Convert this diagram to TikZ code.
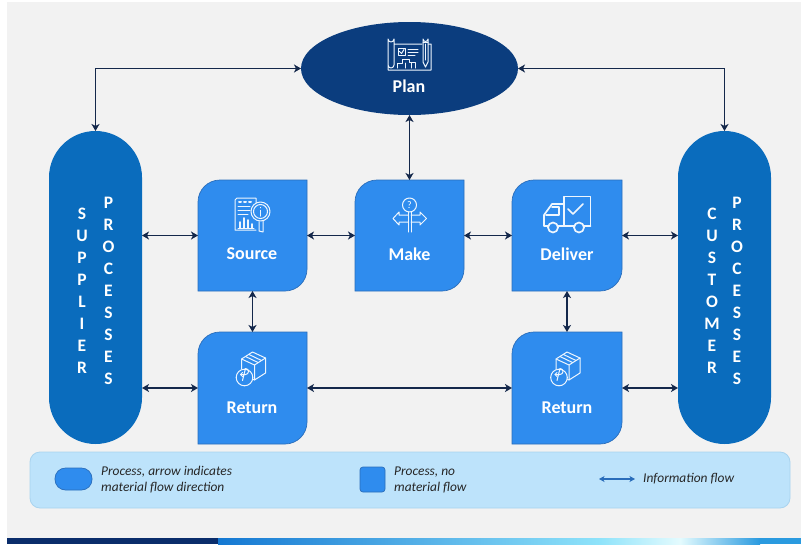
\documentclass[tikz,border=0pt]{standalone}
\usepackage{fontspec}
\setmainfont{Carlito}
\usetikzlibrary{arrows.meta,shapes.geometric}
\definecolor{bgc}{HTML}{F2F2F2}
\definecolor{boxc}{HTML}{2F8CEE}
\definecolor{boxe}{HTML}{2A6DBA}
\definecolor{pillc}{HTML}{0A6CBD}
\definecolor{planc}{HTML}{0B3D7E}
\definecolor{legc}{HTML}{BDE3FB}
\definecolor{lege}{HTML}{A9D3EF}
\definecolor{arrc}{HTML}{14284B}
\definecolor{barc}{HTML}{0A2D6B}
\definecolor{barb}{HTML}{1478D2}
\definecolor{barl}{HTML}{8FE3FA}
\definecolor{barw}{HTML}{E4FBFE}
\definecolor{barr}{HTML}{2A9ADF}
\tikzset{
  boxn/.style={minimum width=109pt,minimum height=111pt,inner sep=0pt,outer sep=0pt,rectangle},
  boxfill/.style={fill=boxc,draw=boxe,line width=0.7pt},
  pilln/.style={rectangle,rounded corners=46.5pt,minimum width=93pt,minimum height=313pt,fill=pillc,inner sep=0pt,outer sep=0pt},
  lab/.style={text=white,font=\fontsize{18}{20}\selectfont\bfseries,inner sep=0pt},
  vert/.style={text=white,font=\fontsize{17.5}{22}\selectfont\bfseries,align=center,inner sep=0pt},
  leg/.style={text=black!85,font=\fontsize{13.4}{16}\selectfont\itshape,align=left,inner sep=0pt,anchor=west},
  flow/.style={arrc,line width=1.5pt,{Stealth[length=7pt,width=8pt,inset=2pt]}-{Stealth[length=7pt,width=8pt,inset=2pt]}},
  ico/.style={white!92!boxc,line width=1pt,line join=round,line cap=round},
}
\newcommand{\softbox}[1]{%
  \path[boxfill] (#1.south west) [rounded corners=22pt] -- (#1.north west) [sharp corners] -- (#1.north east) [rounded corners=22pt] -- (#1.south east) [sharp corners] -- cycle;}
\newcommand{\returnicon}[2]{%
  \begin{scope}[shift={(#1,#2)}]
    % top face
    \draw[ico] (-11,-11) -- (0,-18) -- (13,-12) -- (2,-5) -- cycle;
    % straps
    \draw[ico] (-7,-13.5) -- (5.5,-7.5) (-3.5,-15.5) -- (9,-9.5);
    % sides
    \draw[ico] (-11,-11) -- (-11,-1) (13,-12) -- (13,3) -- (2,10) -- (2,-5);
    \draw[ico] (2,10) -- (0,9);
    % return circle
    \draw[ico,fill=boxc] (-8,7.5) circle (8.3);
    \draw[ico] (-12,4.5) -- (-7,4.5) arc (90:-90:3) -- (-10,10.5);
    \draw[ico] (-10,2.5) -- (-12,4.5) -- (-10,6.5);
  \end{scope}}
\begin{document}
\begin{tikzpicture}[x=1pt,y=-1pt]
\useasboundingbox (0,0) rectangle (801,544);
\fill[white] (0,0) rectangle (801,544);
\fill[bgc] (7,2) rectangle (801,538);
% bottom bar
\fill[barc] (7,538) rectangle (218,544);
\shade[left color=barb,right color=barl] (218,538) rectangle (600,544);
\shade[left color=barl,right color=barw] (600,538) rectangle (680,544);
\shade[left color=barw,right color=barr] (680,538) rectangle (760,544);
\fill[barr] (760,538) rectangle (801,544);
% legend
\fill[legc,draw=lege,line width=0.8pt,rounded corners=10pt] (30,452) rectangle (790,508);
\node[boxfill,rounded corners=10.5pt,minimum width=37pt,minimum height=22pt,inner sep=0pt] (legOval) at (73.5,479) {};
\node[leg] (legOvalT) at (101,480) {Process, arrow indicates\\material flow direction};
\node[boxfill,rounded corners=3pt,minimum width=25pt,minimum height=25pt,inner sep=0pt] (legBox) at (372.5,479.5) {};
\node[leg] (legBoxT) at (394,480) {Process, no\\material flow};
\coordinate (legA) at (599,479);
\coordinate (legB) at (635,479);
\draw[boxe,line width=1.3pt,{Stealth[length=5.5pt,width=6pt,inset=1.5pt]}-{Stealth[length=5.5pt,width=6pt,inset=1.5pt]}] (legA) -- (legB);
\node[leg] (legArrT) at (643,479) {Information flow};
% nodes
\node[ellipse,fill=planc,minimum width=217pt,minimum height=93pt,inner sep=0pt,outer sep=0pt] (plan) at (409.5,68.5) {};
\node[pilln] (sup) at (95.5,287.5) {};
\node[pilln] (cus) at (724.5,287.5) {};
\node[boxn] (src) at (252.5,235.5) {};
\node[boxn] (mak) at (409.5,235.5) {};
\node[boxn,minimum width=110pt] (del) at (567,235.5) {};
\node[boxn,minimum height=112pt] (rl) at (252.5,388) {};
\node[boxn,minimum width=110pt,minimum height=112pt] (rr) at (567,388) {};
\softbox{src}\softbox{mak}\softbox{del}\softbox{rl}\softbox{rr}
\node[lab] (planT) at (409,86) {Plan};
\node[lab] (srcT) at (252,254) {Source};
\node[lab] (makT) at (409.5,254) {Make};
\node[lab] (delT) at (567,254) {Deliver};
\node[lab] (rlT) at (252,408) {Return};
\node[lab] (rrT) at (567,408) {Return};
\node[vert] (supA) at (82,291) {S\\U\\P\\P\\L\\I\\E\\R};
\node[vert] (supB) at (108.5,291) {P\\R\\O\\C\\E\\S\\S\\E\\S};
\node[vert] (cusA) at (712,291) {C\\U\\S\\T\\O\\M\\E\\R};
\node[vert] (cusB) at (737,291) {P\\R\\O\\C\\E\\S\\S\\E\\S};
% connectors
\draw[flow] (plan.west) -| (sup.north);
\draw[flow] (plan.east) -| (cus.north);
\draw[flow] (plan.south) -- (mak.north);
\draw[flow] (sup.east |- src.west) -- (src.west);
\draw[flow] (src.east) -- (mak.west);
\draw[flow] (mak.east) -- (del.west);
\draw[flow] (del.east) -- (cus.west |- del.east);
\draw[flow] (src.south) -- (rl.north);
\draw[flow] (del.south) -- (rr.north);
\draw[flow] (sup.east |- rl.west) -- (rl.west);
\draw[flow] (rl.east) -- (rr.west);
\draw[flow] (rr.east) -- (cus.west |- rr.east);
% plan icon
\begin{scope}[ico]
\draw (394,44) -- (422,44) (428,44) -- (431,44) -- (431,70) -- (388,70) -- (388,39) arc (180:0:3) -- (394,65) arc (0:180:3);
\draw (398,48) rectangle (405,55);
\draw (399.5,51.5) -- (401.5,53.5) -- (404,49.5);
\draw (408,49) -- (418,49) (408,52) -- (418,52) (408,55) -- (415,55);
\draw (397,68) -- (397,63) -- (402,63) -- (402,59) -- (409,59) -- (409,62) -- (415,62) -- (415,68);
\draw (405,63) -- (405,68) (411,63) -- (411,68);
\draw (423,39) arc (180:0:2.5) -- (428,62) -- (425.5,67) -- (423,62) -- cycle;
\draw (423,42) -- (428,42) (425.5,44) -- (425.5,60);
\end{scope}
% source icon
\begin{scope}[ico]
\draw (256,203) -- (256,198) -- (237,198) -- (235,200) -- (235,230) -- (256,230);
\draw[line width=2pt] (239,201.5) -- (241,201.5) (244,201.5) -- (246,201.5) (249,201.5) -- (251,201.5);
\draw (238,206) -- (250,206) (238,210) -- (250,210) (238,214) -- (248,214);
\draw (238,228) -- (254,228);
\draw[line width=1.8pt] (240,228) -- (240,222) (244,228) -- (244,218) (248,228) -- (248,220) (252,228) -- (252,224);
\draw (260.5,211.5) circle (9.5);
\draw (260.5,211.5) circle (7);
\draw[line width=1.4pt] (260.5,210.5) -- (260.5,216) (260.5,207.5) -- (260.5,207.6);
\draw (259,221.5) -- (259,231) -- (263,232) -- (263,221);
\end{scope}
% make icon
\begin{scope}[ico]
\draw (409.5,205) circle (7);
\node[text=white,font=\fontsize{10}{10}\selectfont,inner sep=0pt] (makQ) at (409.5,205) {?};
\draw (408,212) -- (408,232) (411,212) -- (411,232);
\draw (408,215) -- (399,215) -- (399,212) -- (393,218.5) -- (399,225) -- (399,222) -- (408,222);
\draw (411,215) -- (420,215) -- (420,212) -- (426.5,218.5) -- (420,225) -- (420,222) -- (411,222);
\end{scope}
% deliver icon
\begin{scope}[ico,line width=1.7pt]
\draw (564,226) -- (564,196.5) -- (590.5,196.5) -- (590.5,226);
\draw (564,204) -- (552,204) -- (544,215) -- (544,226) -- (548,226);
\draw (558,226) -- (574,226) (584,226) -- (590.5,226);
\draw (552,207) -- (559,207) -- (559,215) -- (546,215);
\draw (553,227.5) circle (5);
\draw (579,227.5) circle (5);
\draw (568,209) -- (573,214) -- (583,204);
\end{scope}
\returnicon{252.5}{370}
\returnicon{567}{370}
\end{tikzpicture}
\end{document}
